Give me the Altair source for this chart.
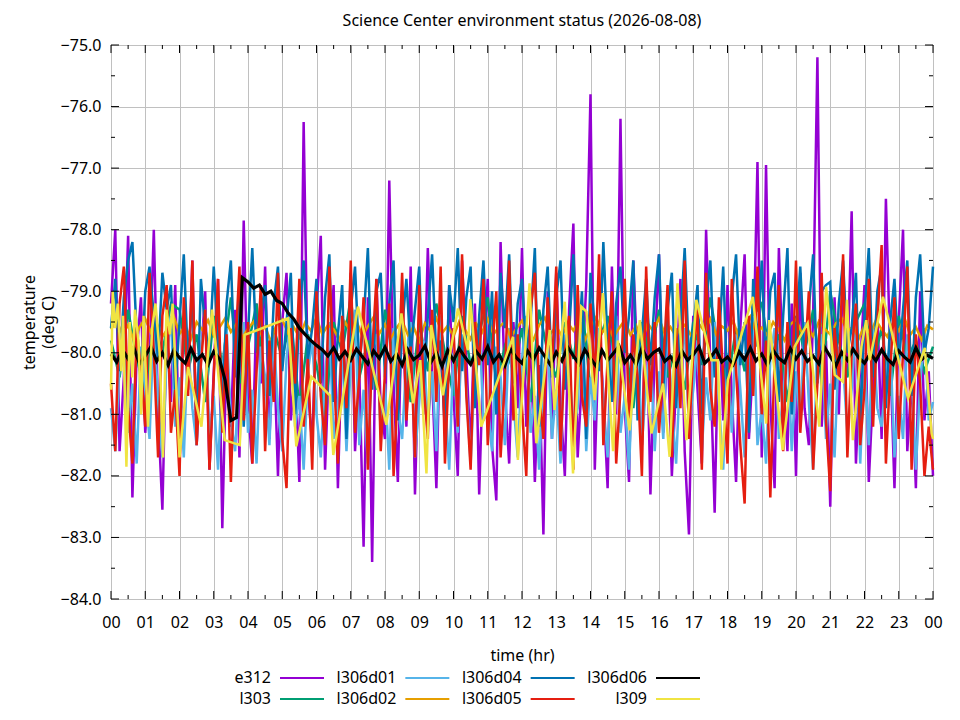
import altair as alt
import numpy as np
import pandas as pd

FONT = "Noto Sans"
TITLE = "Science Center environment status (2026-08-08)"
SERIES = ["e312", "l303", "l306d01", "l306d02", "l306d04", "l306d05", "l306d06", "l309"]
COLORS = ["#9400d3", "#009e73", "#56b4e9", "#e69f00", "#0072b2", "#e51e10", "#000000", "#f0e442"]
WIDTHS = [2.5, 2.5, 2.5, 2.5, 2.5, 2.5, 3.2, 2.5]
LEGEND_ORDER = ["e312", "l306d01", "l306d04", "l306d06", "l303", "l306d02", "l306d05", "l309"]
LEGEND_COL = [0, 1, 2, 3, 0, 1, 2, 3]
LEGEND_ROW = [0, 0, 0, 0, 1, 1, 1, 1]

X_TICKS = list(range(0, 25))
X_MINOR = [h + 0.5 for h in range(0, 24)]
Y_TICKS = list(range(-84, -74))
Y_MINOR = [v + 0.5 for v in range(-84, -75)]

# e312 : 8 samples per hour
E312 = [
    -79.2, -78.0, -81.6, -80.4, -78.1, -82.35, -80.0, -79.1,
    -81.3, -80.2, -78.0, -81.0, -82.55, -79.6, -80.8, -78.9,
    -81.8, -79.4, -80.6, -78.5, -81.5, -80.1, -79.0, -81.9,
    -80.3, -78.8, -82.85, -79.9, -81.2, -79.3, -81.7, -77.85,
    -80.9, -81.8, -79.2, -80.5, -78.6, -81.4, -79.8, -82.0,
    -79.5, -78.7, -81.1, -80.2, -82.1, -76.25, -80.6, -81.5,
    -79.3, -78.1, -81.9, -80.0, -78.9, -82.2, -79.7, -80.8,
    -78.7, -81.6, -80.3, -83.15, -79.1, -83.4, -78.8, -80.9,
    -81.4, -77.2, -80.5, -82.1, -79.0, -81.2, -78.6, -82.3,
    -79.8, -81.0, -78.3, -80.4, -82.2, -79.4, -81.3, -78.9,
    -80.7, -82.0, -78.5, -80.1, -81.6, -79.2, -82.3, -80.0,
    -78.8, -81.5, -82.4, -78.2, -80.6, -81.8, -79.5, -80.9,
    -78.3, -81.2, -79.7, -82.1, -80.2, -82.95, -79.0, -81.4,
    -78.7, -80.8, -82.0, -79.3, -77.9, -81.7, -80.4, -78.9,
    -75.8, -81.9, -79.6, -80.7, -82.2, -78.6, -81.0, -76.2,
    -80.9, -82.1, -78.5, -80.3, -81.5, -79.1, -82.3, -80.0,
    -78.4, -81.3, -79.8, -82.0, -80.5, -78.8, -81.6, -82.95,
    -79.4, -80.6, -81.8, -78.0, -80.2, -82.6, -79.3, -81.1,
    -78.9, -80.7, -82.1, -79.6, -78.4, -81.4, -80.1, -76.9,
    -81.7, -76.95, -80.8, -82.2, -78.3, -80.4, -81.6, -79.2,
    -82.0, -78.7, -80.9, -81.5, -79.4, -75.2, -81.2, -79.8,
    -82.5, -79.1, -81.0, -78.6, -80.3, -77.7, -81.8, -80.2,
    -78.9, -82.1, -80.6, -79.3, -81.4, -77.5, -80.0, -82.2,
    -79.5, -78.0, -81.6, -80.4, -82.2, -79.0, -81.1, -80.3,
    -82.0,
]

# l303 : 4 samples per hour
L303 = [
    -79.8, -80.4, -79.3, -80.1,
    -80.6, -79.5, -80.0, -79.2,
    -79.3, -80.3, -79.7, -80.8,
    -79.4, -80.2, -79.1, -80.5,
    -79.9, -79.2, -80.7, -79.6,
    -80.1, -79.4, -80.9, -79.7,
    -80.2, -81.0, -79.5, -80.0,
    -79.1, -80.4, -79.8, -80.6,
    -79.3, -80.1, -79.6, -80.8,
    -79.5, -80.3, -79.2, -80.0,
    -80.7, -79.4, -80.2, -79.7,
    -79.1, -80.5, -79.9, -80.3,
    -79.6, -80.8, -79.3, -80.0,
    -80.4, -79.5, -80.1, -79.2,
    -80.6, -79.8, -79.4, -80.3,
    -79.7, -80.9, -79.5, -80.1,
    -79.3, -80.4, -79.9, -80.6,
    -79.5, -80.2, -79.1, -80.0,
    -80.5, -79.6, -80.3, -79.4,
    -79.2, -80.1, -79.7, -80.8,
    -79.4, -80.0, -79.3, -80.5,
    -79.0, -79.8, -80.4, -79.5,
    -79.2, -80.2, -79.6, -80.7,
    -79.4, -80.1, -79.8, -80.3,
    -79.9,
]

# l306d01 : 8 samples per hour
L306D01 = [
    -80.9, -81.6, -80.2, -79.6, -81.3, -80.5, -81.8, -79.9,
    -80.6, -81.4, -79.5, -80.8, -81.7, -80.1, -79.4, -81.2,
    -80.4, -81.7, -79.8, -80.9, -81.5, -80.0, -79.3, -81.4,
    -80.7, -81.9, -80.3, -79.6, -81.1, -81.6, -80.2, -79.5,
    -81.3, -80.6, -81.8, -79.9, -80.4, -81.5, -79.7, -80.9,
    -81.6, -80.1, -79.4, -81.2, -80.7, -81.9, -80.3, -79.8,
    -81.0, -81.7, -80.4, -79.5, -81.4, -80.8, -79.9, -81.6,
    -80.2, -79.3, -81.5, -80.6, -81.8, -80.0, -79.7, -81.3,
    -80.5, -81.9, -79.6, -80.9, -81.4, -80.1, -79.5, -81.7,
    -80.8, -79.8, -81.2, -80.3, -81.6, -79.4, -80.7, -81.9,
    -80.0, -81.3, -79.7, -80.6, -81.8, -80.2, -79.5, -81.1,
    -80.9, -81.6, -79.9, -80.4, -81.5, -79.6, -80.8, -81.7,
    -80.1, -79.4, -81.3, -80.7, -81.9, -80.3, -79.8, -81.4,
    -80.6, -81.8, -79.7, -80.2, -81.2, -80.9, -79.5, -81.6,
    -80.4, -81.1, -79.6, -80.8, -81.7, -80.0, -79.4, -81.3,
    -80.7, -81.9, -80.1, -79.7, -81.5, -80.5, -79.9, -81.6,
    -80.3, -81.4, -79.5, -80.9, -81.8, -80.2, -79.6, -81.2,
    -80.6, -79.8, -81.6, -80.4, -81.1, -79.5, -80.8, -81.9,
    -80.0, -81.3, -79.7, -80.6, -81.7, -80.2, -79.4, -81.5,
    -80.9, -81.8, -80.1, -79.6, -81.4, -80.7, -79.8, -81.6,
    -80.3, -81.2, -79.5, -80.8, -81.9, -80.0, -79.7, -81.4,
    -80.5, -81.7, -79.9, -80.2, -81.3, -80.6, -79.5, -81.8,
    -80.1, -81.5, -79.6, -80.9, -81.2, -80.4, -79.8, -81.7,
    -80.7, -81.4, -79.7, -80.3, -81.9, -80.5, -79.6, -81.1,
    -80.8,
]

# l306d02 : 6 samples per hour
L306D02 = [
    -79.62, -79.48, -79.71, -79.55, -79.80, -79.58,
    -79.45, -79.67, -79.52, -79.74, -79.60, -79.41,
    -79.69, -79.56, -79.78, -79.50, -79.63, -79.47,
    -79.72, -79.59, -79.44, -79.66, -79.53, -79.76,
    -79.61, -79.49, -79.70, -79.57, -79.82, -79.54,
    -79.46, -79.68, -79.58, -79.75, -79.51, -79.64,
    -79.43, -79.70, -79.55, -79.62, -79.79, -79.50,
    -79.66, -79.48, -79.73, -79.57, -79.42, -79.69,
    -79.54, -79.77, -79.60, -79.47, -79.71, -79.58,
    -79.81, -79.52, -79.65, -79.44, -79.68, -79.56,
    -79.74, -79.49, -79.62, -79.78, -79.53, -79.67,
    -79.45, -79.70, -79.58, -79.50, -79.76, -79.61,
    -79.48, -79.66, -79.79, -79.55, -79.43, -79.69,
    -79.57, -79.73, -79.51, -79.64, -79.46, -79.80,
    -79.59, -79.42, -79.68, -79.54, -79.75, -79.60,
    -79.47, -79.71, -79.56, -79.83, -79.52, -79.65,
    -79.44, -79.69, -79.58, -79.74, -79.50, -79.62,
    -79.78, -79.53, -79.66, -79.45, -79.70, -79.57,
    -79.64, -79.48, -79.76, -79.55, -79.41, -79.68,
    -79.59, -79.72, -79.50, -79.63, -79.80, -79.54,
    -79.46, -79.67, -79.58, -79.73, -79.49, -79.61,
    -79.70, -79.52, -79.44, -79.66, -79.57, -79.77,
    -79.55, -79.69, -79.47, -79.62, -79.74, -79.51,
    -79.65, -79.43, -79.71, -79.58, -79.79, -79.56,
    -79.62,
]

# l306d04 : 8 samples per hour
L306D04 = [
    -79.6, -78.8, -80.3, -79.1, -78.5, -78.2, -79.7, -80.5,
    -79.0, -78.6, -79.4, -80.1, -78.7, -79.3, -78.9, -80.6,
    -79.5, -78.4, -80.2, -79.0, -81.3, -78.8, -79.6, -80.0,
    -78.6, -79.8, -80.9, -79.2, -78.5, -80.4, -79.1, -81.2,
    -79.7, -78.3, -80.0, -79.4, -78.9, -80.7, -79.2, -78.6,
    -80.3, -79.5, -78.7, -81.0, -79.3, -78.5, -80.1, -79.6,
    -78.8, -80.5, -79.1, -78.4, -80.8, -79.7, -78.9, -81.4,
    -79.3, -78.6, -80.2, -79.5, -78.3, -80.6, -79.0, -78.7,
    -80.4, -79.2, -78.5, -81.1, -79.6, -78.8, -80.0, -79.3,
    -78.6, -80.7, -79.4, -78.4, -80.1, -79.8, -81.3, -78.9,
    -79.5, -78.3, -80.3, -79.1, -78.6, -80.9, -79.4, -78.5,
    -80.2, -79.0, -81.0, -78.7, -79.6, -78.4, -80.5, -79.2,
    -78.8, -80.0, -79.5, -78.3, -81.2, -79.3, -78.6, -80.4,
    -79.1, -78.5, -80.6, -79.7, -78.4, -80.1, -79.0, -81.4,
    -78.7, -79.6, -80.3, -78.2, -79.9, -80.8, -79.2, -78.6,
    -80.0, -79.4, -78.5, -81.1, -79.7, -78.8, -80.2, -79.1,
    -78.4, -80.6, -79.3, -78.7, -80.9, -79.5, -78.3, -80.1,
    -79.6, -78.9, -81.0, -79.2, -78.5, -80.4, -79.8, -78.6,
    -80.7, -79.1, -78.4, -80.2, -79.5, -81.3, -78.8, -79.9,
    -78.5, -80.3, -79.0, -78.7, -80.8, -79.4, -78.3, -81.0,
    -79.7, -78.6, -80.1, -79.3, -78.4, -80.5, -79.0, -78.9,
    -78.85, -80.6, -79.2, -78.5, -80.0, -79.6, -78.7, -81.2,
    -79.4, -78.3, -80.4, -79.0, -78.6, -80.9, -79.5, -78.8,
    -80.2, -79.3, -78.5, -80.7, -79.1, -78.4, -80.0, -79.6,
    -78.6,
]

# l306d05 : 8 samples per hour
L306D05 = [
    -80.5, -81.6, -79.2, -78.6, -80.9, -81.8, -79.6, -80.3,
    -81.2, -78.7, -80.0, -81.7, -79.4, -78.9, -81.3, -80.6,
    -82.0, -79.1, -80.7, -78.5, -81.5, -80.2, -79.3, -81.9,
    -80.4, -78.8, -81.3, -79.7, -82.1, -80.0, -78.6, -81.1,
    -79.5, -81.8, -80.3, -78.9, -81.6, -79.8, -80.8, -78.7,
    -81.4, -82.2, -79.6, -80.5, -78.8, -81.2, -80.1, -81.9,
    -79.0, -80.7, -81.5, -78.6, -80.2, -81.8, -79.4, -80.9,
    -78.5, -81.3, -80.4, -79.1, -81.9, -80.0, -78.8, -81.6,
    -80.3, -79.2, -82.0, -80.6, -78.7, -81.1, -79.9, -81.7,
    -78.9, -80.5, -81.4, -79.3, -80.8, -78.6, -81.8, -80.1,
    -79.6, -81.2, -78.4, -80.7, -81.9, -79.5, -80.2, -78.8,
    -81.5, -80.0, -79.0, -81.7, -80.4, -78.5, -81.1, -79.7,
    -80.9, -82.0, -79.3, -78.7, -80.6, -81.4, -79.1, -80.3,
    -78.6, -81.6, -80.0, -79.4, -81.9, -78.9, -80.7, -81.2,
    -79.2, -80.5, -78.4, -81.5, -80.1, -79.0, -81.8, -80.6,
    -78.8, -81.1, -79.7, -80.4, -82.0, -78.6, -80.8, -79.5,
    -81.3, -80.2, -78.9, -81.7, -79.6, -80.9, -78.5, -81.4,
    -80.0, -79.3, -81.9, -78.7, -80.6, -81.2, -79.1, -80.4,
    -81.8, -78.8, -80.3, -81.5, -82.45, -79.4, -80.7, -78.6,
    -81.0, -79.8, -82.35, -80.1, -78.9, -81.6, -79.5, -80.8,
    -78.5, -81.3, -80.2, -79.0, -81.9, -80.5, -78.7, -81.1,
    -82.25, -79.6, -80.4, -78.4, -81.7, -80.0, -79.2, -81.5,
    -80.6, -78.8, -81.2, -79.5, -78.25, -81.8, -80.3, -79.1,
    -81.4, -80.0, -78.6, -81.9, -79.7, -80.5, -82.0, -81.2,
    -81.9,
]

# l306d06 : 6 samples per hour
L306D06 = [
    -80.02, -80.15, -79.95, -80.10, -79.92, -80.18,
    -80.05, -79.90, -80.14, -80.00, -80.20, -79.96,
    -80.08, -80.17, -79.93, -80.12, -80.03, -80.19,
    -79.98, -80.10, -80.45, -81.10, -81.05, -78.78,
    -78.85, -78.95, -78.90, -79.05, -79.00, -79.15,
    -79.20, -79.35, -79.45, -79.60, -79.70, -79.80,
    -79.88, -79.95, -80.05, -79.92, -80.10, -79.98,
    -80.12, -79.94, -80.06, -80.18, -79.97, -80.09,
    -79.91, -80.14, -80.02, -80.20, -79.95, -80.11,
    -80.04, -79.89, -80.16, -80.00, -80.22, -79.96,
    -80.13, -79.93, -80.07, -80.19, -79.98, -80.10,
    -79.90, -80.15, -80.03, -80.21, -79.94, -80.08,
    -80.17, -79.97, -80.11, -79.92, -80.06, -80.20,
    -79.99, -80.13, -79.91, -80.05, -80.18, -79.95,
    -80.09, -80.22, -79.96, -80.12, -80.01, -79.89,
    -80.16, -80.04, -80.19, -79.93, -80.10, -80.00,
    -79.94, -80.14, -80.06, -80.21, -79.97, -80.12,
    -80.03, -79.90, -80.17, -80.08, -79.95, -80.15,
    -80.07, -80.19, -79.98, -80.11, -79.92, -80.13,
    -80.02, -80.20, -79.96, -80.09, -80.16, -79.93,
    -80.10, -79.97, -80.14, -80.05, -80.18, -79.91,
    -80.06, -80.21, -79.99, -80.12, -79.94, -80.08,
    -80.17, -80.01, -80.13, -79.95, -80.10, -80.19,
    -79.97, -80.07, -80.15, -79.92, -80.11, -80.04,
    -80.09,
]

# l309 : irregular samples (hour, value)
L309_T = [0.0, 0.05, 0.12, 0.2, 0.3, 0.35, 0.45, 0.55, 0.62, 0.7, 0.8, 0.88, 0.95,
          1.08, 1.2, 1.3, 1.42, 1.52, 1.62, 1.72, 1.8, 1.9, 2.0, 2.25, 2.64, 2.95,
          3.32, 3.76, 3.9, 5.17, 5.41, 5.85, 6.39, 6.49, 7.21, 8.04, 8.48, 8.82,
          9.03, 9.21, 9.35, 9.69, 10.13, 10.42, 10.49, 10.81, 11.74, 11.88, 12.22,
          12.42, 12.81, 12.95, 13.25, 13.49, 13.73, 13.88, 14.12, 14.36, 14.66,
          14.80, 15.14, 15.44, 15.78, 16.12, 16.31, 16.54, 16.80, 17.09, 17.53,
          17.72, 17.82, 18.01, 18.74, 19.13, 19.22, 19.61, 19.96, 20.34, 20.68,
          20.88, 21.13, 21.37, 21.49, 21.66, 21.91, 22.05, 22.15, 22.54, 23.27,
          23.76, 23.96, 24.0]
L309_V = [-80.6, -79.0, -79.6, -79.2, -80.3, -79.4, -81.85, -79.5, -80.4, -79.3, -79.8, -81.0, -79.4,
          -81.2, -79.6, -79.2, -80.0, -81.7, -79.3, -79.7, -79.2, -80.5, -81.7, -80.23, -81.2, -79.3,
          -81.42, -81.5, -79.71, -79.44, -81.52, -80.39, -80.69, -81.66, -79.25, -81.17, -79.36, -80.82,
          -80.12, -81.96, -79.55, -80.69, -79.28, -79.96, -79.13, -81.2, -79.74, -81.74, -78.87,
          -81.47, -79.63, -80.93, -79.17, -81.96, -79.25, -79.33, -80.77, -79.03, -81.6,
          -79.8, -81.26, -79.47, -81.31, -80.5, -81.69, -78.87, -81.42, -79.14, -80.12,
          -80.12, -81.9, -80.44, -79.09, -81.15, -79.47, -81.58, -79.9, -79.52, -81.2,
          -78.93, -80.36, -80.47, -79.14, -81.42, -79.9, -79.47, -80.12, -79.09, -80.74,
          -79.92, -81.31, -81.4]

W, H = 822, 554
GRID = "#c0c0c0"

XS = alt.Scale(domain=[0, 24], nice=False, zero=False)
YS = alt.Scale(domain=[-84, -75], nice=False, zero=False)

XAX = alt.Axis(values=X_TICKS, title="time (hr)", grid=True, gridColor=GRID, gridWidth=1,
               ticks=False, domain=False, labelFlush=False, labelOverlap=False,
               labelExpr="datum.value == 24 ? '00' : (datum.value < 10 ? '0' + datum.value : '' + datum.value)",
               labelFont=FONT, labelFontSize=16, labelColor="black", labelPadding=15,
               titleFont=FONT, titleFontSize=16, titleFontWeight="normal", titleColor="black",
               titlePadding=17)
YAX = alt.Axis(values=Y_TICKS, format=".1f", title=["temperature", "(deg C)"], grid=True,
               gridColor=GRID, gridWidth=1, ticks=False, domain=False, labelOverlap=False,
               labelFont=FONT, labelFontSize=16, labelColor="black", labelPadding=10,
               titleFont=FONT, titleFontSize=16, titleFontWeight="normal", titleColor="black",
               titlePadding=4, titleLineHeight=19)


def xq(field):
    return alt.X(field, type="quantitative", scale=XS, axis=XAX)


def yq(field):
    return alt.Y(field, type="quantitative", scale=YS, axis=YAX)


def series_df(vals, per_hour):
    return pd.DataFrame({"t": np.arange(len(vals)) / per_hour, "v": vals})


frames = {
    "e312": series_df(E312, 8),
    "l303": series_df(L303, 4),
    "l306d01": series_df(L306D01, 8),
    "l306d02": series_df(L306D02, 6),
    "l306d04": series_df(L306D04, 8),
    "l306d05": series_df(L306D05, 8),
    "l306d06": series_df(L306D06, 6),
    "l309": pd.DataFrame({"t": L309_T, "v": L309_V}),
}

layers = []
for name, color, sw in zip(SERIES, COLORS, WIDTHS):
    layers.append(
        alt.Chart(frames[name]).mark_line(color=color, strokeWidth=sw, strokeJoin="miter")
        .encode(x=xq("t"), y=yq("v"))
    )

# inward ticks on all four sides
xt_major = pd.DataFrame({"t": X_TICKS})
xt_minor = pd.DataFrame({"t": X_MINOR})
yt_major = pd.DataFrame({"v": Y_TICKS})
yt_minor = pd.DataFrame({"v": Y_MINOR})


def xticks(df, edge, size, off):
    return alt.Chart(df).mark_tick(orient="vertical", color="black", size=size, thickness=1,
                                   opacity=1, yOffset=off).encode(
        x=xq("t"), y=alt.YDatum(edge, type="quantitative", scale=YS, axis=YAX))


def yticks(df, edge, size, off):
    return alt.Chart(df).mark_tick(orient="horizontal", color="black", size=size, thickness=1,
                                   opacity=1, xOffset=off).encode(
        y=yq("v"), x=alt.XDatum(edge, type="quantitative", scale=XS, axis=XAX))


layers += [
    xticks(xt_major, -84, 8, -4), xticks(xt_minor, -84, 4, -2),
    xticks(xt_major, -75, 8, 4), xticks(xt_minor, -75, 4, 2),
    yticks(yt_major, 0, 8, 4), yticks(yt_minor, 0, 4, 2),
    yticks(yt_major, 24, 8, -4), yticks(yt_minor, 24, 4, -2),
]

main = alt.layer(*layers)

leg_df = pd.DataFrame({"name": LEGEND_ORDER, "col": LEGEND_COL, "row": LEGEND_ROW})
LX = alt.Scale(domain=[0, 3], range=[160, 536])
LY = alt.Scale(domain=[0, 1], range=[633, 654])
leg_text = alt.Chart(leg_df).mark_text(align="right", baseline="middle", font=FONT,
                                       fontSize=16, color="black").encode(
    x=alt.X("col:Q", scale=LX, axis=None),
    y=alt.Y("row:Q", scale=LY, axis=None),
    text="name:N",
)
leg_rule = alt.Chart(leg_df).mark_rule(strokeWidth=2, xOffset=9, x2Offset=53).encode(
    x=alt.X("col:Q", scale=LX, axis=None),
    x2="col:Q",
    y=alt.Y("row:Q", scale=LY, axis=None),
    color=alt.Color("name:N", scale=alt.Scale(domain=SERIES, range=COLORS), legend=None),
)
legend = alt.layer(leg_text, leg_rule)

chart = alt.layer(main, legend).resolve_scale(x="independent", y="independent").properties(
    width=W, height=H,
    title=alt.TitleParams(TITLE, font=FONT, fontSize=16, fontWeight="normal", color="black",
                          anchor="middle", offset=8),
    autosize=alt.AutoSizeParams(type="none"),
    padding={"left": 103, "top": 37, "right": 19, "bottom": 113},
).configure_view(stroke="black", strokeWidth=1)

chart.save("out.html", embed_options={"renderer": "svg", "actions": False})
